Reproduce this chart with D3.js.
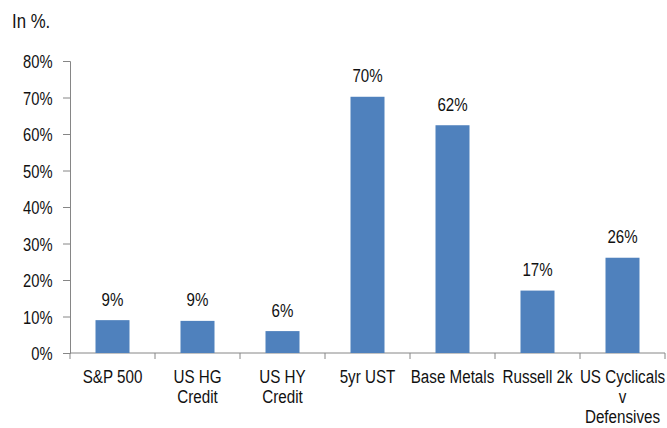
<!DOCTYPE html>
<html>
<head>
<meta charset="utf-8">
<script src="https://cdn.jsdelivr.net/npm/d3@7"></script>
<style>
  body { margin: 0; background: #fff; }
  svg { display: block; font-family: "Liberation Sans", Arial, sans-serif; }
</style>
</head>
<body>
<svg id="chart" width="667" height="428"></svg>
<script>
const categories = [
  ['S&P 500'],
  ['US HG', 'Credit'],
  ['US HY', 'Credit'],
  ['5yr UST'],
  ['Base Metals'],
  ['Russell 2k'],
  ['US Cyclicals', 'v', 'Defensives']
]
const values = [9, 8.8, 6, 70.2, 62.4, 17.1, 26.1]
const valueLabels = ['9%', '9%', '6%', '70%', '62%', '17%', '26%']
const yTicks = [0, 10, 20, 30, 40, 50, 60, 70, 80]

const svg = d3.select('#chart')
const plotLeft = 70, plotRight = 665, plotTop = 61, plotBottom = 353
const axisColor = '#868686'
const textColor = '#111'

const x = d3.scaleBand()
  .domain(d3.range(categories.length))
  .range([plotLeft, plotRight])
  .paddingInner(0.6)
  .paddingOuter(0.3)

const y = d3.scaleLinear().domain([0, 80]).range([plotBottom, plotTop])

// the source font is a bit narrow, squeeze text horizontally
function squeezed(sel, px, py, sx) {
  return sel.attr('transform', `translate(${px},${py}) scale(${sx},1)`)
}

squeezed(svg.append('text'), 12, 28.3, 0.8)
  .attr('font-size', 21)
  .attr('fill', textColor)
  .text('In %.')

// y axis
const yAxis = svg.append('g')
  .attr('transform', `translate(${plotLeft},0)`)
  .call(d3.axisLeft(y).tickValues(yTicks).tickSize(7).tickPadding(10).tickFormat(d => d + '%'))
yAxis.select('.domain').attr('stroke', axisColor)
yAxis.selectAll('.tick line').attr('stroke', axisColor)
yAxis.selectAll('.tick text')
  .attr('x', 0)
  .attr('dy', '0.37em')
  .attr('transform', 'translate(-17.5,0) scale(0.82,1)')
  .attr('font-size', 18)
  .attr('font-family', '"Liberation Sans", Arial, sans-serif')
  .attr('fill', textColor)

// x axis line + ticks at band edges
const step = x.step()
const edges = d3.range(categories.length + 1).map(i => plotLeft + i * step)
svg.append('line')
  .attr('x1', plotLeft).attr('x2', plotRight)
  .attr('y1', plotBottom).attr('y2', plotBottom)
  .attr('stroke', axisColor)
svg.append('g').selectAll('line')
  .data(edges)
  .join('line')
  .attr('x1', d => d).attr('x2', d => d)
  .attr('y1', plotBottom).attr('y2', plotBottom + 6)
  .attr('stroke', axisColor)

// bars
svg.append('g').selectAll('rect')
  .data(values)
  .join('rect')
  .attr('x', (d, i) => x(i))
  .attr('width', x.bandwidth())
  .attr('y', d => y(d))
  .attr('height', d => plotBottom - y(d))
  .attr('fill', '#4F81BD')

// value labels
svg.append('g').selectAll('text')
  .data(values)
  .join('text')
  .each(function (d, i) {
    squeezed(d3.select(this), x(i) + x.bandwidth() / 2, y(d) - 14.4, 0.84)
  })
  .attr('text-anchor', 'middle')
  .attr('font-size', 18)
  .attr('fill', textColor)
  .text((d, i) => valueLabels[i])

// category labels
svg.append('g').selectAll('text')
  .data(categories)
  .join('text')
  .attr('text-anchor', 'middle')
  .attr('font-size', 19)
  .attr('fill', textColor)
  .each(function (lines, i) {
    const t = squeezed(d3.select(this), x(i) + x.bandwidth() / 2, 382.7, 0.8)
    t.selectAll('tspan')
      .data(lines)
      .join('tspan')
      .attr('x', 0)
      .attr('y', (l, j) => j * 20.3)
      .text(l => l)
  })
</script>
</body>
</html>
